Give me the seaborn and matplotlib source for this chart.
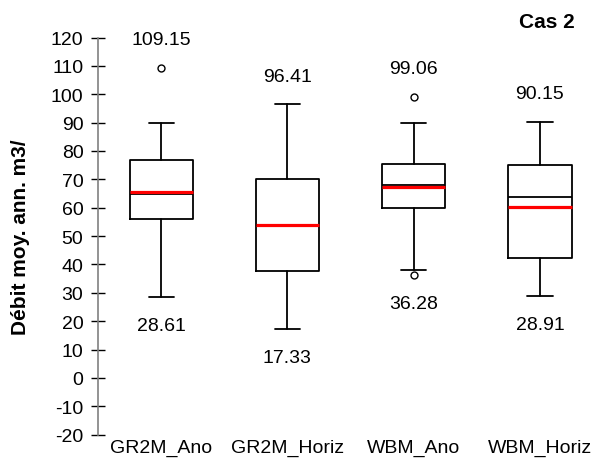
import matplotlib
matplotlib.use("Agg")
import matplotlib.pyplot as plt
import seaborn as sns

# Data
models = ["GR2M_Ano", "GR2M_Horiz", "WBM_Ano", "WBM_Horiz"]
q1 = [55.9, 37.7, 59.8, 42.2]
median = [64.9, 53.8, 68.1, 63.7]
q3 = [76.9, 70.0, 75.4, 75.1]
mean = [65.4, 54.0, 67.2, 60.4]
whisker_low = [28.61, 17.33, 38.2, 28.91]
whisker_high = [89.8, 96.41, 89.8, 90.15]
outliers = [[109.15], [], [99.06, 36.28], []]
label_max = [109.15, 96.41, 99.06, 90.15]
label_min = [28.61, 17.33, 36.28, 28.91]

sns.set_style("white")
plt.rcParams["font.family"] = ["Liberation Sans", "DejaVu Sans"]
plt.rcParams["axes.unicode_minus"] = False
for key in ["text.color", "axes.labelcolor", "xtick.color", "ytick.color"]:
    plt.rcParams[key] = "black"

stats = []
for i, name in enumerate(models):
    stats.append({
        "label": name, "q1": q1[i], "med": median[i], "q3": q3[i],
        "mean": mean[i], "whislo": whisker_low[i], "whishi": whisker_high[i],
        "fliers": outliers[i],
    })

fig = plt.figure(figsize=(5.93, 4.60), dpi=100)
ax = fig.add_axes([0.1653, 0.0528, 0.8347, 0.8635])

line = {"color": "black", "linewidth": 1.3}
ax.bxp(
    stats, positions=[1, 2, 3, 4], widths=0.5, capwidths=0.2,
    showmeans=True, meanline=True,
    boxprops=line, whiskerprops=line, capprops=line,
    medianprops={"color": "black", "linewidth": 1.3},
    meanprops={"color": "red", "linestyle": "-", "linewidth": 2.3},
    flierprops={"marker": "o", "markersize": 5, "markerfacecolor": "white",
                "markeredgecolor": "black", "markeredgewidth": 1.0},
)

for i in range(len(models)):
    ax.text(i + 1, label_max[i] + 10, f"{label_max[i]:.2f}", ha="center",
            va="center", fontsize=14)
    ax.text(i + 1, label_min[i] - 10, f"{label_min[i]:.2f}", ha="center",
            va="center", fontsize=14)

ax.set_xlim(0.5, 4.42)
ax.set_ylim(-20, 120)
ax.set_yticks(range(-20, 121, 10))
ax.tick_params(axis="y", direction="inout", length=10, width=1.0,
               color="black", labelsize=14, pad=5.5, left=True)
ax.tick_params(axis="x", length=0, labelsize=14, pad=3)

sns.despine(ax=ax, top=True, right=True, bottom=True)
ax.spines["left"].set_color("#808080")
ax.spines["left"].set_linewidth(1.2)

ax.set_ylabel("Débit moy. ann. m3/", fontsize=15, fontweight="bold")
ax.yaxis.set_label_coords(-0.137, 0.5)
fig.text(0.922, 0.95, "Cas 2", ha="center", va="center", fontsize=15,
         fontweight="bold")

fig.savefig("out.png", dpi=100)
